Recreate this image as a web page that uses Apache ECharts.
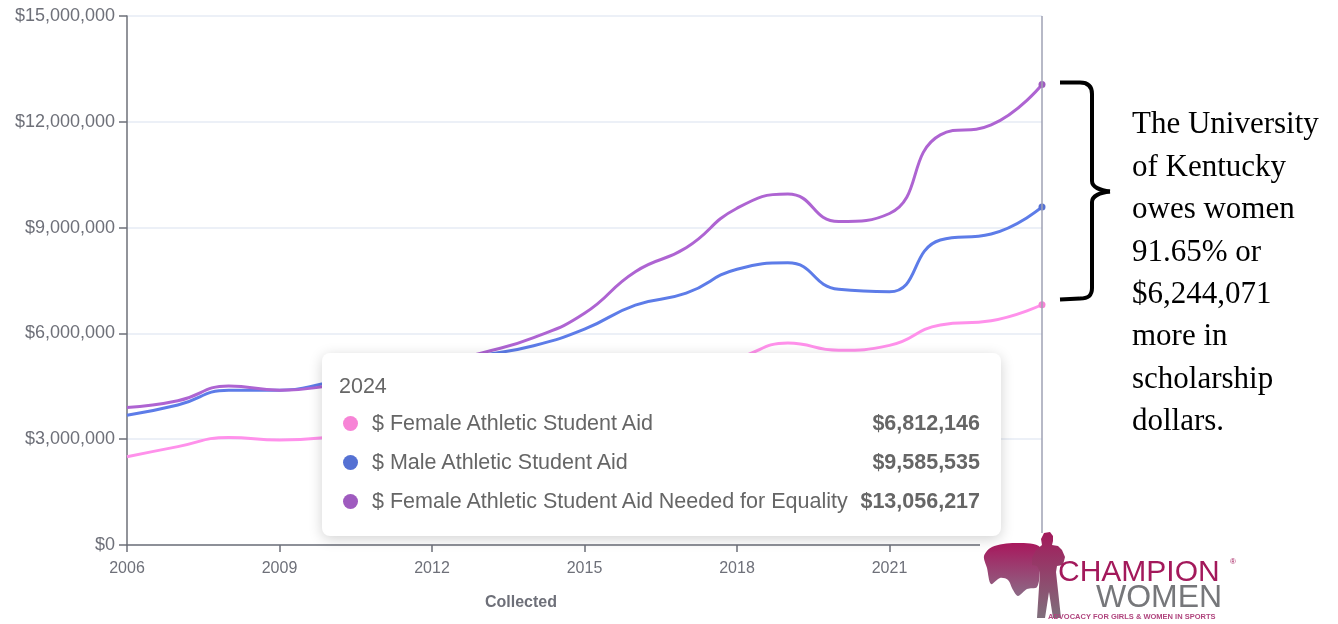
<!DOCTYPE html>
<html>
<head>
<meta charset="utf-8">
<script src="https://cdn.jsdelivr.net/npm/echarts@6/dist/echarts.min.js"></script>
<style>
  html, body { margin: 0; padding: 0; background: #fff; }
  #main { width: 1338px; height: 624px; }
</style>
</head>
<body>
<div id="main"></div>
<script>
// 数据：按年份
const years = [2006, 2007, 2008, 2009, 2010, 2011, 2012, 2013, 2014, 2015,
               2016, 2017, 2018, 2019, 2020, 2021, 2022, 2023, 2024];
const femaleAid = [2500000, 2790000, 3050000, 2980000, 3060000, 3250000, 3500000, 3800000, 4100000, 4450000,
                   4800000, 5050000, 5300000, 5730000, 5520000, 5660000, 6240000, 6360000, 6812146];
const maleAid = [3680000, 3970000, 4390000, 4390000, 4610000, 4850000, 5100000, 5380000, 5650000, 6120000,
                 6800000, 7140000, 7820000, 8000000, 7250000, 7180000, 8650000, 8820000, 9585535];
const equalityAid = [3900000, 4090000, 4510000, 4390000, 4520000, 4780000, 5100000, 5450000, 5880000, 6570000,
                     7750000, 8430000, 9550000, 9950000, 9170000, 9400000, 11630000, 11910000, 13056217];
const seriesNames = ['$ Female Athletic Student Aid', '$ Male Athletic Student Aid',
                     '$ Female Athletic Student Aid Needed for Equality'];
const seriesColors = ['#f784d6', '#5571d3', '#9f5bbf'];
const noteLines = ['The University', 'of Kentucky', 'owes women', '91.65% or', '$6,244,071',
                   'more in', 'scholarship', 'dollars.'];

const money = v => '$' + Math.round(v).toLocaleString('en-US');
const pairs = arr => years.map((y, i) => [y, arr[i]]);

const chartDom = document.getElementById('main');
const myChart = echarts.init(chartDom);

const makeSeries = (name, data, color) => ({
    name: name,
    type: 'line',
    data: pairs(data),
    smooth: true,
    showSymbol: false,
    symbol: 'circle',
    symbolSize: 7,
    lineStyle: { width: 3, color: color },
    itemStyle: { color: color },
    emphasis: { scale: false, lineStyle: { width: 3 } }
});

// 括号样式
const brace = { fill: null, stroke: '#000', lineWidth: 4 };
const seg = (x1, y1, x2, y2) => ({ type: 'line', z: 100, shape: { x1, y1, x2, y2 }, style: brace });
const curve = (x1, y1, cpx1, cpy1, cpx2, cpy2, x2, y2) =>
    ({ type: 'bezierCurve', z: 100, shape: { x1, y1, cpx1, cpy1, cpx2, cpy2, x2, y2 }, style: brace });

const logoFill = (a, b) => ({ type: 'linear', x: 0, y: 0, x2: 0, y2: 1,
    colorStops: [{ offset: 0, color: a }, { offset: 1, color: b }] });

const option = {
    animation: false,
    textStyle: { fontFamily: 'Liberation Sans' },
    grid: { left: 127, right: 296, top: 16, bottom: 79 },
    xAxis: {
        type: 'value',
        min: 2006,
        max: 2024,
        interval: 3,
        name: 'Collected',
        nameLocation: 'middle',
        nameGap: 50,
        nameTextStyle: { color: '#6E7079', fontSize: 16, fontWeight: 'bold', padding: [0, 127, 0, 0] },
        axisLine: { lineStyle: { color: '#6E7079', width: 1.5 } },
        axisTick: { length: 7, lineStyle: { width: 1.5 } },
        axisLabel: { color: '#6E7079', fontSize: 16, margin: 16, formatter: v => String(v) },
        splitLine: { show: false }
    },
    yAxis: {
        type: 'value',
        min: 0,
        max: 15000000,
        interval: 3000000,
        axisLine: { show: true, lineStyle: { color: '#6E7079', width: 1.5 } },
        axisTick: { show: true, length: 8, lineStyle: { width: 1.5 } },
        axisLabel: { color: '#6E7079', fontSize: 18, margin: 12, formatter: v => money(v) },
        splitLine: { lineStyle: { color: '#E6EBF5', width: 1.5 } }
    },
    tooltip: {
        trigger: 'axis',
        alwaysShowContent: true,
        transitionDuration: 0,
        padding: 0,
        borderWidth: 0,
        backgroundColor: '#fff',
        extraCssText: 'border-radius:8px;box-shadow:0 3px 14px rgba(0,0,0,0.18);',
        position: [322, 353],
        axisPointer: { type: 'line', lineStyle: { color: '#9fa2b5', width: 1.5, type: 'solid' } },
        formatter: params => {
            const font = "font-family:'Liberation Sans',Arial,sans-serif;font-size:21.5px;color:#666;";
            let html = `<div style="width:679px;height:183px;box-sizing:border-box;padding:15px 21px 15px 17px;${font}">`;
            html += `<div style="line-height:36px;">${params[0].axisValue}</div>`;
            params.forEach(p => {
                html += `<div style="display:flex;align-items:center;line-height:39px;margin-left:4px;">`
                    + `<span style="display:inline-block;width:15px;height:15px;border-radius:50%;background:${p.color};margin-right:14px;"></span>`
                    + `<span style="flex:1;white-space:nowrap;">${p.seriesName}</span>`
                    + `<span style="font-weight:bold;margin-left:8px;">${money(p.value[1])}</span></div>`;
            });
            return html + '</div>';
        }
    },
    graphic: [
        // 注释括号
        seg(1060, 82.5, 1080, 82.5),
        curve(1080, 82.5, 1088, 82.5, 1092, 86, 1092, 94),
        seg(1092, 94, 1092, 181),
        curve(1092, 181, 1092, 187, 1100, 190.5, 1110, 191.5),
        curve(1110, 191.5, 1100, 192.5, 1092, 196, 1092, 202),
        seg(1092, 202, 1092, 288),
        curve(1092, 288, 1092, 296, 1088, 298.5, 1080, 298.5),
        seg(1080, 298.5, 1060, 299.5),
        {
            type: 'text',
            z: 100,
            left: 1132,
            top: 104,
            style: {
                text: noteLines.join('\n'),
                font: '31px "Liberation Serif"',
                lineHeight: 42.4,
                fill: '#000'
            }
        },
        // logo
        {
            type: 'rect',
            z: 100,
            shape: { x: 980, y: 533, width: 358, height: 91 },
            style: { fill: '#fff' }
        },
        {
            type: 'polygon',
            z: 101,
            shape: {
                smooth: 0.3,
                points: [[1040, 547], [1015, 543], [992, 547], [984, 556], [987, 568], [991, 584],
                         [1000, 578], [1008, 580], [1013, 590], [1018, 596], [1027, 589], [1037, 587], [1040, 570]]
            },
            style: { fill: logoFill('#a8185d', '#8c6a86') }
        },
        {
            type: 'polygon',
            z: 101,
            shape: {
                points: [[1044, 533], [1050, 532], [1053, 536], [1053, 541], [1052, 545], [1058, 546],
                         [1062, 550], [1065, 557], [1063, 565], [1057, 566], [1056, 572], [1061, 618],
                         [1053, 618], [1049, 592], [1045, 618], [1037, 618], [1040, 572], [1037, 566],
                         [1032, 565], [1032, 558], [1036, 550], [1042, 545], [1041, 539]]
            },
            style: { fill: logoFill('#a3195b', '#7f6f7c') }
        },
        {
            type: 'text',
            z: 101,
            left: 1058,
            top: 558,
            style: { text: 'CHAMPION', font: '30px "Liberation Sans"', fill: '#a3195b' }
        },
        {
            type: 'text',
            z: 101,
            left: 1230,
            top: 558,
            style: { text: '®', font: '8px "Liberation Sans"', fill: '#a3195b' }
        },
        {
            type: 'text',
            z: 101,
            left: 1096,
            top: 582,
            style: { text: 'WOMEN', font: '32px "Liberation Sans"', fill: '#76777a' }
        },
        {
            type: 'text',
            z: 101,
            left: 1048,
            top: 613,
            style: { text: 'ADVOCACY FOR GIRLS & WOMEN IN SPORTS', font: 'bold 7.5px "Liberation Sans"', fill: '#b0457e' }
        }
    ],
    series: [
        makeSeries(seriesNames[0], femaleAid, seriesColors[0]),
        makeSeries(seriesNames[1], maleAid, seriesColors[1]),
        makeSeries(seriesNames[2], equalityAid, seriesColors[2])
    ]
};

option && myChart.setOption(option);
myChart.dispatchAction({ type: 'showTip', seriesIndex: 0, dataIndex: years.length - 1 });
</script>
</body>
</html>
